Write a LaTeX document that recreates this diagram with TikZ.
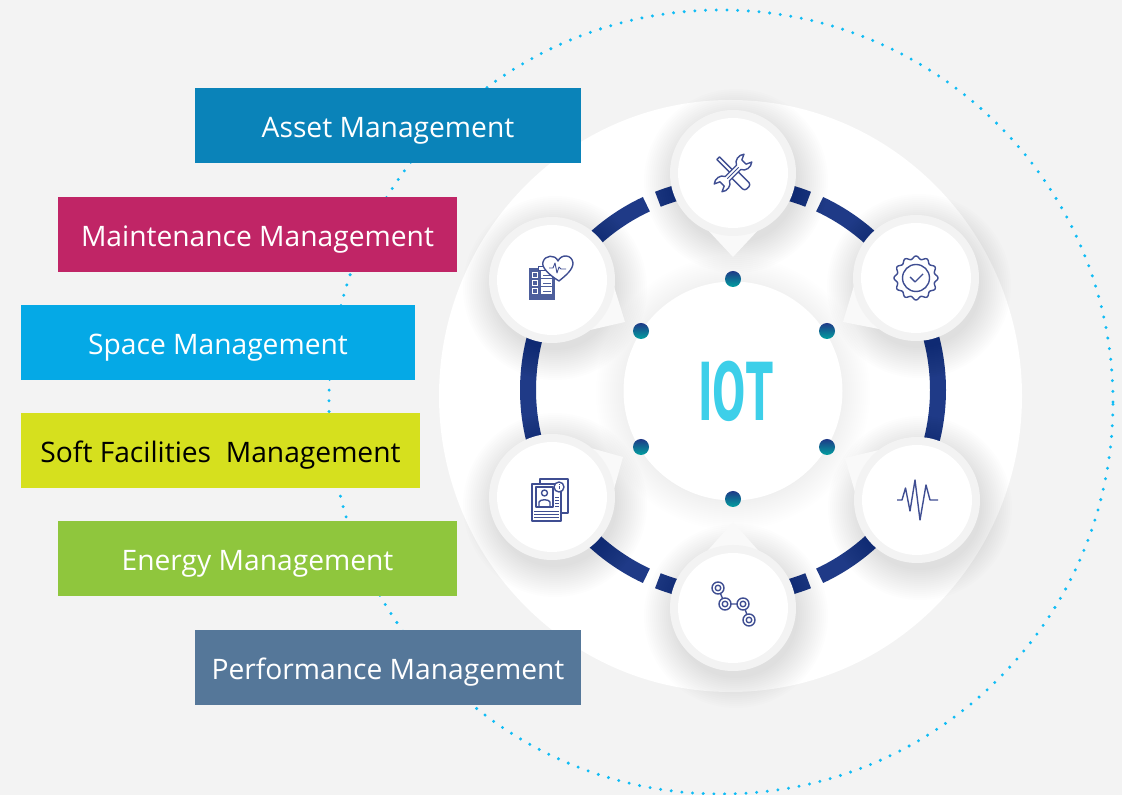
\documentclass[tikz,border=0pt]{standalone}
\usepackage{fontspec}
\setmainfont{Open Sans}
\newfontfamily\iotfont{DejaVu Sans}
\usepackage{xcolor}
\usetikzlibrary{calc}
\definecolor{pagegrey}{HTML}{F3F3F3}
\definecolor{dotblue}{HTML}{10BCF5}
\definecolor{ringblue}{HTML}{1F3A87}
\definecolor{rimgrey}{HTML}{F3F3F3}
\definecolor{tipgrey}{HTML}{F9F9F9}
\definecolor{iconblue}{HTML}{3F4E92}
\definecolor{iconfill}{HTML}{4D5F9C}
\definecolor{assetblue}{HTML}{0A83B9}
\definecolor{maintred}{HTML}{C02566}
\definecolor{spaceblue}{HTML}{05A9E6}
\definecolor{softyellow}{HTML}{D6E01E}
\definecolor{energygreen}{HTML}{8FC63D}
\definecolor{perfslate}{HTML}{557799}
\definecolor{iotcyan}{HTML}{3DCFE9}
\tikzset{
  mgmtbox/.style={minimum height=75pt,inner sep=0pt,text height=30pt,text depth=6.4pt,text=white,
    font=\fontsize{28.2}{32}\selectfont},
  iconline/.style={draw=iconblue,line width=1.4pt,line join=round},
  ringpart/.style={draw=ringblue,line width=16pt},
  hubdot/.style={top color=ringblue,bottom color=teal!75!cyan,draw=none}
}
\begin{document}
\begin{tikzpicture}[x=1pt,y=1pt]
\fill[pagegrey] (0,0) rectangle (1122,795);
\useasboundingbox (0,0) rectangle (1122,795);
% Places
\coordinate (hub) at (733,405);
\coordinate (wrenchbadge) at (733,622);
\coordinate (sealbadge) at (916,517);
\coordinate (pulsebadge) at (917,295);
\coordinate (pathbadge) at (733,187);
\coordinate (cardbadge) at (552,298);
\coordinate (heartbadge) at (552,515);
\coordinate (wrenchtip) at (733,538);
\coordinate (sealtip) at (843,473);
\coordinate (pulsetip) at (845,337);
\coordinate (pathtip) at (733,273);
\coordinate (cardtip) at (623,338);
\coordinate (hearttip) at (625,473);
% Backdrop circles
\draw[dotblue,line width=3.3pt,line cap=round,dash pattern=on 0pt off 10.7pt] (721,393) circle (392);
\fill[white] (730.5,399) ellipse (291.5 and 296);
\foreach \r in {109,111,...,137}
  \fill[black,opacity=.005] (733,402) circle (\r);
\fill[white] (733,404) circle (109.5);
% Ring
\foreach \a/\b in {80/68.5,65/40,25/-25,-40/-65,-68.5/-80,100/111.5,115/140,155/205,220/245,248.5/260}
  \draw[ringpart] ($(hub)+(\a:205)$) arc[start angle=\a,end angle=\b,radius=205];
% Badges
\foreach \badge/\tip in {wrenchbadge/wrenchtip,sealbadge/sealtip,pulsebadge/pulsetip,pathbadge/pathtip,cardbadge/cardtip,heartbadge/hearttip} {
  \foreach \r in {62,64,...,92}
    \fill[black,opacity=.007] ($(\badge)+(3,-8)$) circle (\r);
  \fill[tipgrey] ($(\badge)!58pt!38:(\tip)$) -- (\tip) -- ($(\badge)!58pt!-38:(\tip)$) -- cycle;
  \fill[rimgrey] (\badge) circle (63);
  \fill[white] (\badge) circle (55);
}
% Dots
\foreach \x/\y in {733/516,827/464,827/348,733/296,641/348,641/464}
  \shade[hubdot] (\x,\y) circle (8);
% Centre word
\node[text=iotcyan,font=\iotfont\bfseries\fontsize{80}{80}\selectfont,xscale=.49,inner sep=0pt] (iotword) at (735.5,404) {IOT};
% Wrench icon
\begin{scope}[shift={(wrenchbadge)},rotate=-45]
\draw[iconline,fill=white] (-21,-1.8) rectangle (1,1.8);
\draw[iconline,fill=white,rounded corners=3pt] (1,-4.5) rectangle (21,4.5);
\end{scope}
\begin{scope}[shift={(wrenchbadge)},rotate=45]
\draw[iconline,fill=white] (8,3) .. controls (10,8) and (17,9) .. (21,5.5) -- (15.5,3) -- (15.5,-3) -- (21,-5.5) .. controls (17,-9) and (10,-8) .. (8,-3)
  -- (-8,-3) .. controls (-10,-8) and (-17,-9) .. (-21,-5.5) -- (-15.5,-3) -- (-15.5,3) -- (-21,5.5) .. controls (-17,9) and (-10,8) .. (-8,3) -- cycle;
\draw[iconline,line width=.8pt] (-8,0) -- (8,0);
\end{scope}
% Seal icon
\begin{scope}[shift={(sealbadge)}]
\draw[iconline] plot[domain=0:360,samples=121,smooth] ({(20.5+1.5*cos(12*\x))*cos(\x)},{(20.5+1.5*cos(12*\x))*sin(\x)}) -- cycle;
\draw[iconline] (0,0) circle (13.5);
\draw[iconline] (-6,1) -- (-1,-4) -- (7,4);
\end{scope}
% Pulse icon
\begin{scope}[shift={(pulsebadge)}]
\draw[iconline] (-20,0) -- (-15,0) -- (-11.5,12) -- (-7,-11) -- (-2,20) -- (3,-20) -- (9,15) -- (13,0) -- (21,0);
\end{scope}
% Path icon
\begin{scope}[shift={(pathbadge)}]
\draw[iconline] (-15,20) -- (-8,4) -- (10,4) -- (16,-12);
\foreach \x/\y in {-15/20,-8/4,10/4,16/-12} {
  \draw[iconline,fill=white] (\x,\y) circle (6);
  \draw[iconline] (\x,\y) circle (2.8);
}
\end{scope}
% Card icon
\begin{scope}[shift={(cardbadge)}]
\draw[iconline,fill=white] (-12,18) rectangle (16,-16);
\draw[iconline,fill=white] (-20,13) rectangle (9,-24);
\draw[iconline] (-16,10) rectangle (1,-10);
\draw[iconline] (-7.5,4) circle (3);
\draw[iconline] (-13,-10) -- (-13,-5) .. controls (-12,-2) and (-3,-2) .. (-2,-5) -- (-2,-10);
\foreach \y in {-14,-17,-20}
  \draw[iconline,line width=.8pt] (-18,\y) -- (7,\y);
\foreach \y in {0,-3,-6,-9}
  \draw[iconline,line width=.8pt] (3,\y) -- (7,\y);
\draw[iconline,fill=white] (7,10) circle (5);
\draw[iconline,line width=1pt] (7,7.5) -- (7,10.5) (7,12) -- (7,12.6);
\end{scope}
% Clipboard icon
\begin{scope}[shift={(heartbadge)}]
\fill[iconfill] (-23,12) rectangle (3,-20);
\fill[white,rounded corners=1pt] (-14,14) rectangle (-4,10);
\draw[iconline,line width=.8pt] (-14,14) rectangle (-4,10);
\foreach \y in {5,-3,-11} {
  \draw[white,line width=.8pt] (-20,\y+2.5) rectangle (-14.5,\y-2.5);
  \fill[white] (-11,\y+3.5) rectangle (0,\y-3.5);
  \draw[iconfill,line width=.8pt] (-9,\y) -- (-1,\y);
}
\draw[iconline,fill=white] (7,-1) .. controls (-3,5) and (-11,13) .. (-9,18) .. controls (-7,25) and (3,26) .. (6,19) .. controls (9,26) and (20,26) .. (21,17) .. controls (21,10) and (13,4) .. (7,-1) -- cycle;
\draw[iconline,line width=.9pt] (-3,12) -- (1,12) -- (3,17) -- (5,7) -- (7,13) -- (9,11) -- (14,11);
\end{scope}
% Boxes
\node[mgmtbox,fill=assetblue,minimum width=386pt] (assetbox) at (388,669.5) {Asset Management};
\node[mgmtbox,fill=maintred,minimum width=399pt] (maintbox) at (257.5,560.5) {Maintenance Management};
\node[mgmtbox,fill=spaceblue,minimum width=394pt] (spacebox) at (218,452.5) {Space Management};
\node[mgmtbox,fill=softyellow,minimum width=399pt,text=black] (softbox) at (220.5,344.5) {Soft Facilities\ \ Management};
\node[mgmtbox,fill=energygreen,minimum width=399pt] (energybox) at (257.5,236.5) {Energy Management};
\node[mgmtbox,fill=perfslate,minimum width=386pt] (perfbox) at (388,127.5) {Performance Management};
\end{tikzpicture}
\end{document}
